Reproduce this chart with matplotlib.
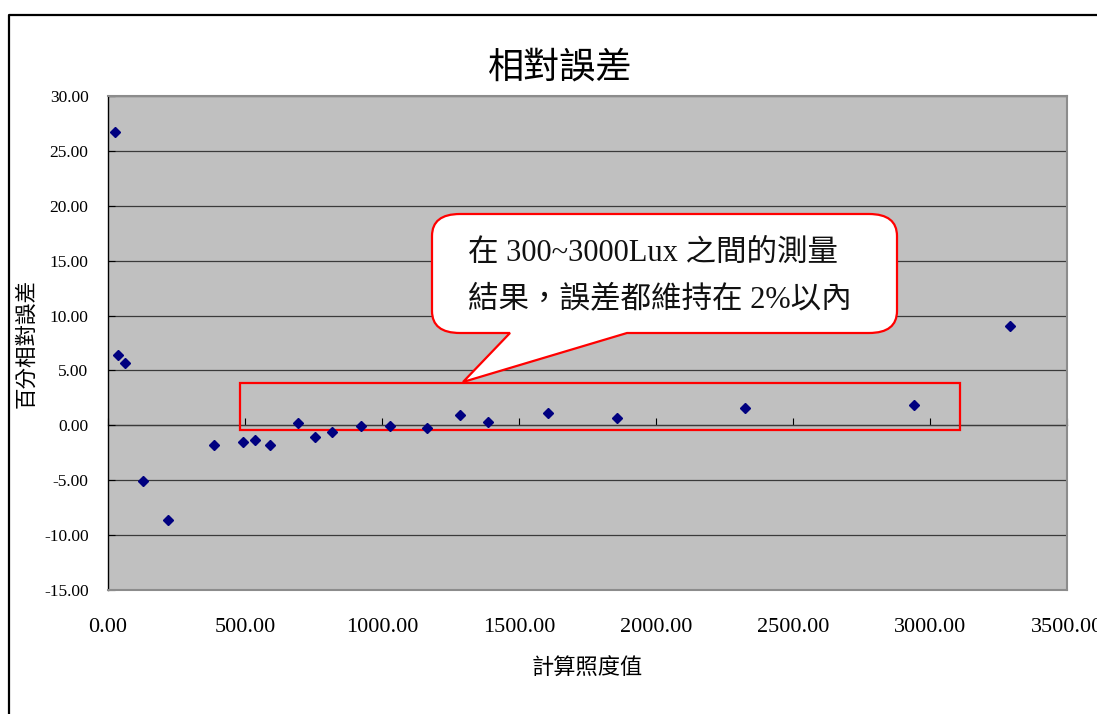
import matplotlib
matplotlib.use("Agg")
import matplotlib.pyplot as plt
from matplotlib.path import Path
from matplotlib.patches import PathPatch, Rectangle
from matplotlib.lines import Line2D
from matplotlib.transforms import Affine2D

# Measured illuminance vs. percent relative error
lux = [27, 37, 63, 129, 218, 388, 491, 536, 590, 693, 755, 816, 925, 1028,
       1163, 1286, 1388, 1606, 1858, 2324, 2943, 3293]
rel_err = [26.70, 6.38, 5.71, -5.09, -8.59, -1.79, -1.48, -1.33, -1.79, 0.19,
           -1.08, -0.60, -0.05, -0.03, -0.20, 0.98, 0.31, 1.10, 0.70, 1.58,
           1.86, 9.05]

x_ticks = [0, 500, 1000, 1500, 2000, 2500, 3000, 3500]
x_labels = ["0.00", "500.00", "1000.00", "1500.00", "2000.00", "2500.00",
            "3000.00", "3500.00"]
y_ticks = [-15, -10, -5, 0, 5, 10, 15, 20, 25, 30]
y_labels = ["-15.00", "-10.00", "-5.00", "0.00", "5.00", "10.00", "15.00",
            "20.00", "25.00", "30.00"]

# Highlighted band (300~3000 Lux region)
band_x = [482, 3109]
band_y = [-0.42, 3.89]

title = "相對誤差"
x_title = "計算照度值"
y_title = "百分相對誤差"
note_lines = ["在 300~3000Lux 之間的測量", "結果，誤差都維持在 2%以內"]

W, H = 1097, 714
fig = plt.figure(figsize=(W / 100, H / 100), dpi=100, facecolor="white")
ax = fig.add_axes([108 / W, 1 - 590 / H, 959 / W, 494 / H])
ax.set_facecolor("#C0C0C0")
ax.set_xlim(0, 3500)
ax.set_ylim(-15, 30)

serif = ["Liberation Serif", "DejaVu Serif"]
cjk = ["Noto Sans CJK TC", "DejaVu Sans"]
mixed = ["Liberation Serif", "Noto Sans CJK TC", "DejaVu Sans"]

# Horizontal gridlines
ax.set_axisbelow(True)
ax.yaxis.grid(True, color="#3a3a3a", linewidth=0.9)
ax.xaxis.grid(False)

ax.set_yticks(y_ticks, labels=y_labels, fontfamily=serif, fontsize=12.5)
ax.tick_params(axis="y", direction="in", length=5, width=0.8, pad=14,
               color="black")
ax.set_xticks(x_ticks, labels=x_labels, fontfamily=serif, fontsize=16)
ax.tick_params(axis="x", length=0, pad=20)

for side in ("top", "right", "bottom"):
    ax.spines[side].set_color("#8c8c8c")
    ax.spines[side].set_linewidth(1.5)
ax.spines["left"].set_color("black")
ax.spines["left"].set_linewidth(1.0)

# Category axis crossing at y = 0 with inward tick marks
sec = ax.secondary_xaxis(15 / 45)
sec.set_xticks(x_ticks)
sec.tick_params(axis="x", direction="in", length=5, width=0.8,
                color="black", labelbottom=False, labeltop=False)
for s in sec.spines.values():
    s.set_color("#3a3a3a")
    s.set_linewidth(0.9)

# Highlight box
ax.add_patch(Rectangle((band_x[0], band_y[0]), band_x[1] - band_x[0],
                       band_y[1] - band_y[0], fill=False, edgecolor="#FF0000",
                       linewidth=1.6, zorder=3))

# Data points
ax.plot(lux, rel_err, linestyle="none", marker="D", markersize=5.0,
        color="#000080", zorder=5, clip_on=False)

# Pixel-space transform (origin top-left) for the callout and frame
px = Affine2D().scale(1 / W, -1 / H).translate(0, 1) + fig.transFigure

L, R, T, B = 432, 897, 214, 333
rx, ry = 28, 22
tail_a, tail_b, tip = 510, 627, (463, 382)
verts = [
    (L + rx, T), (R - rx, T), (R, T), (R, T + ry), (R, B - ry), (R, B),
    (R - rx, B), (tail_b, B), tip, (tail_a, B), (L + rx, B), (L, B),
    (L, B - ry), (L, T + ry), (L, T), (L + rx, T), (L + rx, T),
]
codes = [
    Path.MOVETO, Path.LINETO, Path.CURVE3, Path.CURVE3, Path.LINETO,
    Path.CURVE3, Path.CURVE3, Path.LINETO, Path.LINETO, Path.LINETO,
    Path.LINETO, Path.CURVE3, Path.CURVE3, Path.LINETO, Path.CURVE3,
    Path.CURVE3, Path.CLOSEPOLY,
]
callout = PathPatch(Path(verts, codes), facecolor="white", edgecolor="#FF0000",
                    linewidth=1.6, transform=px, clip_on=False, zorder=6)
ax.add_patch(callout)
for i, line in enumerate(note_lines):
    ax.text(468, 253 + i * 47, line, transform=px, fontsize=22,
            fontfamily=mixed, ha="left", va="center", color="#111111",
            zorder=7, clip_on=False)

# Titles
fig.text(560 / W, 1 - 68 / H, title, fontsize=26, fontfamily=cjk,
         ha="center", va="center", color="black")
fig.text(587 / W, 1 - 668 / H, x_title, fontsize=16, fontfamily=cjk,
         ha="center", va="center", color="black")
fig.text(26 / W, 1 - 343 / H, y_title, fontsize=15.5, fontfamily=cjk,
         rotation=90, ha="center", va="center", color="black")

# Outer chart frame
fig.add_artist(Line2D([8.5, 8.5, W + 5], [H + 5, 14.5, 14.5],
                      transform=px, color="black", linewidth=1.6))

fig.savefig("out.png", dpi=100, facecolor="white")
